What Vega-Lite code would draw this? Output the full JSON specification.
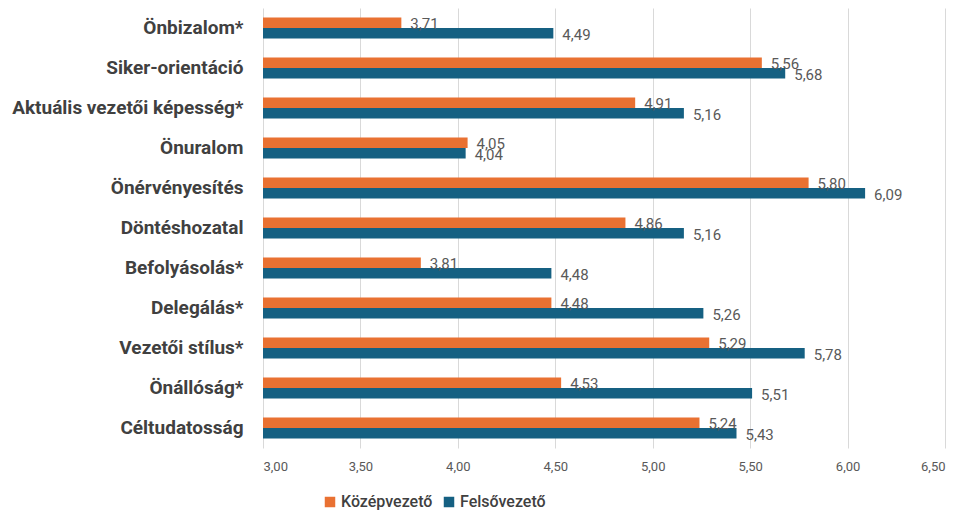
{
  "$schema": "https://vega.github.io/schema/vega-lite/v6.json",
  "autosize": "none",
  "width": 682,
  "height": 440,
  "padding": {"left": 263, "top": 8, "right": 23, "bottom": 67},
  "background": "white",
  "config": {
    "locale": {"number": {"decimal": ",", "thousands": " ", "grouping": [3], "currency": ["", ""]}},
    "view": {"stroke": null},
    "font": "Roboto"
  },
  "data": {
    "values": [
      {"cat": "Önbizalom*", "group": "Középvezető", "value": 3.71},
      {"cat": "Önbizalom*", "group": "Felsővezető", "value": 4.49},
      {"cat": "Siker-orientáció", "group": "Középvezető", "value": 5.56},
      {"cat": "Siker-orientáció", "group": "Felsővezető", "value": 5.68},
      {"cat": "Aktuális vezetői képesség*", "group": "Középvezető", "value": 4.91},
      {"cat": "Aktuális vezetői képesség*", "group": "Felsővezető", "value": 5.16},
      {"cat": "Önuralom", "group": "Középvezető", "value": 4.05},
      {"cat": "Önuralom", "group": "Felsővezető", "value": 4.04},
      {"cat": "Önérvényesítés", "group": "Középvezető", "value": 5.80},
      {"cat": "Önérvényesítés", "group": "Felsővezető", "value": 6.09},
      {"cat": "Döntéshozatal", "group": "Középvezető", "value": 4.86},
      {"cat": "Döntéshozatal", "group": "Felsővezető", "value": 5.16},
      {"cat": "Befolyásolás*", "group": "Középvezető", "value": 3.81},
      {"cat": "Befolyásolás*", "group": "Felsővezető", "value": 4.48},
      {"cat": "Delegálás*", "group": "Középvezető", "value": 4.48},
      {"cat": "Delegálás*", "group": "Felsővezető", "value": 5.26},
      {"cat": "Vezetői stílus*", "group": "Középvezető", "value": 5.29},
      {"cat": "Vezetői stílus*", "group": "Felsővezető", "value": 5.78},
      {"cat": "Önállóság*", "group": "Középvezető", "value": 4.53},
      {"cat": "Önállóság*", "group": "Felsővezető", "value": 5.51},
      {"cat": "Céltudatosság", "group": "Középvezető", "value": 5.24},
      {"cat": "Céltudatosság", "group": "Felsővezető", "value": 5.43}
    ]
  },
  "encoding": {
    "y": {
      "field": "cat", "type": "nominal", "sort": null,
      "scale": {"paddingInner": 0.47, "paddingOuter": 0.235},
      "axis": {"title": null, "domain": false, "ticks": false, "labelPadding": 20,
               "labelFontSize": 19, "labelFontWeight": "bold", "labelColor": "#404040", "labelLimit": 400}
    },
    "yOffset": {"field": "group", "type": "nominal", "sort": ["Középvezető", "Felsővezető"]},
    "x": {
      "field": "value", "type": "quantitative",
      "scale": {"domain": [3, 6.5], "zero": false, "nice": false},
      "axis": {"title": null, "format": ".2f", "values": [3, 3.5, 4, 4.5, 5, 5.5, 6, 6.5],
               "domain": false, "ticks": false, "grid": true, "gridColor": "#d9d9d9", "gridWidth": 1,
               "labelFontSize": 13, "labelColor": "#595959", "labelPadding": 12}
    }
  },
  "layer": [
    {
      "mark": {"type": "bar"},
      "encoding": {
        "x2": {"datum": 3},
        "color": {
          "field": "group", "type": "nominal",
          "scale": {"domain": ["Középvezető", "Felsővezető"], "range": ["#E97132", "#156082"]},
          "legend": {"title": null, "orient": "none", "legendX": 59, "legendY": 486, "direction": "horizontal",
                     "symbolType": "square", "symbolSize": 110, "symbolStrokeWidth": 0, "labelFontSize": 16,
                     "labelColor": "#404040", "labelFontWeight": 500, "columnPadding": 8, "symbolOffset": 0, "labelOffset": 3}
        }
      }
    },
    {
      "mark": {"type": "text", "align": "left", "baseline": "middle", "dx": 9, "dy": 1.5, "fontSize": 15, "color": "#595959"},
      "encoding": {"text": {"field": "value", "type": "quantitative", "format": ".2f"}}
    }
  ]
}
